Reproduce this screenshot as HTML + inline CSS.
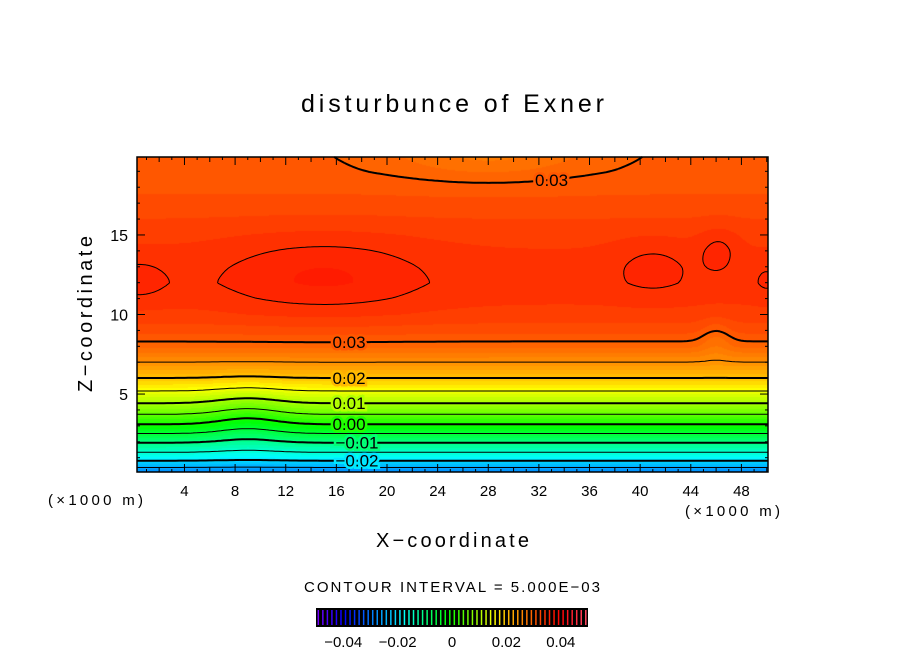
<!DOCTYPE html>
<html><head><meta charset="utf-8">
<style>
body{margin:0;background:#fff;width:904px;height:654px;position:relative;overflow:hidden;font-family:"Liberation Sans",sans-serif;}
#fill{position:absolute;left:137px;top:157px;}
#ov{position:absolute;left:0;top:0;}
</style></head><body>
<canvas id="fill" width="631" height="315"></canvas>
<svg id="ov" width="904" height="654">
<text x="301" y="112" font-size="25" textLength="303" lengthAdjust="spacing">disturbunce of Exner</text>
<text x="376" y="547" font-size="20" textLength="153" lengthAdjust="spacing">X−coordinate</text>
<text transform="translate(92,392) rotate(-90)" font-size="20" textLength="156" lengthAdjust="spacing">Z−coordinate</text>
<text x="48" y="505" font-size="15" textLength="95" lengthAdjust="spacing">(×1000 m)</text>
<text x="685" y="516" font-size="15" textLength="95" lengthAdjust="spacing">(×1000 m)</text>
<text x="304" y="592" font-size="15" textLength="296" lengthAdjust="spacing">CONTOUR INTERVAL = 5.000E−03</text>
<g id="lines"></g>
<g id="labels"></g>
<rect x="137" y="157" width="631" height="315" fill="none" stroke="#000" stroke-width="1.5"/>
<g id="axes"></g>
<g id="cbar"></g>
</svg>
<script>
// ---- data ----
const profileZ = [0,1,2,3,4,5,6,7,8,9,10,11,12,13,14,15,16,17,18,19,20];
const profileVal = [-0.0295,-0.0178,-0.0095,-0.0008,0.0072,0.0138,0.020,0.025,0.0292,0.0318,0.0333,0.0340,0.0343,0.0341,0.0338,0.0333,0.0325,0.0317,0.0309,0.0304,0.0303];
const bumpX   = [15,    0.3,   50,    41,    46.2,  28,     9,      46];
const bumpZ   = [12.5,  12.2,  12.2,  13,    14.1,  20.5,   3.5,    8.5];
const bumpAmp = [0.0022,0.0013,0.0010,0.0014,0.0016,-0.0035,-0.003, -0.002];
const bumpSX  = [8,     2.6,   1.2,   3.3,   1.6,   8,      3,      1.2];
const bumpSZ  = [2.5,   1.5,   1.2,   1.8,   1.5,   1.8,    2,      1.2];
const xTicks = [4,8,12,16,20,24,28,32,36,40,44,48];
const yTicks = [5,10,15];
const labelLevels = [0.03,0.02,0.01,0.00,-0.01,-0.02];
const cbarTicks = [-0.04,-0.02,0,0.02,0.04];
const cbarLabels = ["−0.04","−0.02","0","0.02","0.04"];
const hueV = [-0.05,-0.03,-0.02,-0.01,0,0.01,0.02,0.03,0.035,0.04,0.05];
const hueH = [270,212,188,150,115,80,45,22,10,0,-10];
// ---- axes ----
const X0=137,X1=768,Y0=472,Y1=157,xmin=0.25,xmax=50.1,zmin=0.1,zmax=19.9;
const sx=x=>X0+(x-xmin)/(xmax-xmin)*(X1-X0);
const sy=z=>Y0-(z-zmin)/(zmax-zmin)*(Y0-Y1);
function prof(z){if(z<=0)return profileVal[0];for(let i=1;i<profileZ.length;i++){if(z<=profileZ[i]){const t=(z-profileZ[i-1])/(profileZ[i]-profileZ[i-1]);return profileVal[i-1]*(1-t)+profileVal[i]*t;}}return profileVal[profileVal.length-1];}
function field(x,z){let v=prof(z);for(let i=0;i<bumpX.length;i++){const dx=(x-bumpX[i])/bumpSX[i],dz=(z-bumpZ[i])/bumpSZ[i];v+=bumpAmp[i]*Math.exp(-(dx*dx+dz*dz));}return v;}
function hsl2rgb(h,s,l){h=(h+360)%360;const a=s*Math.min(l,1-l);const f=n=>{const k=(n+h/30)%12;return Math.round(255*(l-a*Math.max(-1,Math.min(k-3,9-k,1))));};return [f(0),f(8),f(4)];}
function color(v){let h=hueH[0];if(v>=hueV[hueV.length-1])h=hueH[hueH.length-1];else for(let i=1;i<hueV.length;i++){if(v<=hueV[i]){const t=(v-hueV[i-1])/(hueV[i]-hueV[i-1]);h=hueH[i-1]*(1-t)+hueH[i]*t;break;}}
 const l=v>0.04?0.5+(v-0.04)*15:0.5;return hsl2rgb(h,1,l);}
// fill
const cv=document.getElementById('fill'),ctx=cv.getContext('2d');
const W=631,H=315,img=ctx.createImageData(W,H);
for(let j=0;j<H;j++)for(let i=0;i<W;i++){const x=xmin+(i+0.5)/W*(xmax-xmin),z=zmax-(j+0.5)/H*(zmax-zmin);let v=field(x,z);v=Math.floor(v/0.00125)*0.00125+0.000625;const c=color(v);const p=(j*W+i)*4;img.data[p]=c[0];img.data[p+1]=c[1];img.data[p+2]=c[2];img.data[p+3]=255;}
ctx.putImageData(img,0,0);
// contours (marching squares)
const NS="http://www.w3.org/2000/svg";
const nx=211,nz=106,gx=[],gz=[],G=[];
for(let i=0;i<nx;i++)gx.push(xmin+i/(nx-1)*(xmax-xmin));
for(let j=0;j<nz;j++)gz.push(zmin+j/(nz-1)*(zmax-zmin));
for(let j=0;j<nz;j++){G.push([]);for(let i=0;i<nx;i++)G[j].push(field(gx[i],gz[j]));}
const linesG=document.getElementById('lines');
for(let k=-6;k<=8;k++){const L=k*0.005;let d="";
 for(let j=0;j<nz-1;j++)for(let i=0;i<nx-1;i++){
  const c=[[gx[i],gz[j],G[j][i]],[gx[i+1],gz[j],G[j][i+1]],[gx[i+1],gz[j+1],G[j+1][i+1]],[gx[i],gz[j+1],G[j+1][i]]];
  const pts=[];for(let e=0;e<4;e++){const a=c[e],b=c[(e+1)%4];if((a[2]-L)*(b[2]-L)<0){const t=(L-a[2])/(b[2]-a[2]);pts.push([sx(a[0]+t*(b[0]-a[0])),sy(a[1]+t*(b[1]-a[1]))]);}}
  for(let p=0;p+1<pts.length;p+=2)d+="M"+pts[p][0].toFixed(1)+" "+pts[p][1].toFixed(1)+"L"+pts[p+1][0].toFixed(1)+" "+pts[p+1][1].toFixed(1);}
 if(!d)continue;
 const path=document.createElementNS(NS,'path');
 
 
 path.setAttribute('d',d);path.setAttribute('fill','none');path.setAttribute('stroke','#000');
 path.setAttribute('stroke-width',k%2===0?2:1);
 if(L<0)path.setAttribute('stroke-dasharray','6 4');
 linesG.appendChild(path);}
// labels
const labG=document.getElementById('labels');
function addLabel(txt,x,y){const t=document.createElementNS(NS,'text');
 
 
 t.setAttribute('x',x);t.setAttribute('y',y+6);t.setAttribute('font-size','17');t.setAttribute('text-anchor','middle');
 t.setAttribute('stroke-width','5');t.setAttribute('paint-order','stroke');
 const v=field((x-X0)/(X1-X0)*(xmax-xmin)+xmin,zmax-(y-Y1)/(Y0-Y1)*(zmax-zmin));const c=color(Math.floor(v/0.00125)*0.00125+0.000625);
 t.setAttribute('stroke','rgb('+c.join(',')+')');t.textContent=txt;labG.appendChild(t);}
labelLevels.forEach(L=>{const x=17;let zf=null;for(let z=0.1;z<10;z+=0.02){if(field(x,z)>=L){zf=z;break;}}
 if(zf!==null)addLabel((L<0?"−":"")+Math.abs(L).toFixed(2),sx(x)+(L<0?8:0),sy(zf));});
{const x=33;let zf=null;for(let z=19.9;z>14;z-=0.02){if(field(x,z)>=0.03){zf=z;break;}}if(zf!==null)addLabel("0.03",sx(x),sy(zf));}
// axes ticks
const ax=document.getElementById('axes');
function line(x1,y1,x2,y2,w,name){const l=document.createElementNS(NS,'line');l.setAttribute('x1',x1);l.setAttribute('y1',y1);l.setAttribute('x2',x2);l.setAttribute('y2',y2);l.setAttribute('stroke','#000');l.setAttribute('stroke-width',w);ax.appendChild(l);}
for(let x=1;x<=50;x++){const len=x%4===0?8:(x%2===0?5:3);line(sx(x),Y0,sx(x),Y0-len,1,'x-tick');line(sx(x),Y1,sx(x),Y1+len,1,'x-tick');}
for(let z=1;z<=19;z++){const len=z%5===0?8:3;line(X0,sy(z),X0+len,sy(z),1,'y-tick');line(X1,sy(z),X1-len,sy(z),1,'y-tick');}
xTicks.forEach(x=>{const t=document.createElementNS(NS,'text');t.setAttribute('x',sx(x));t.setAttribute('y',496);t.setAttribute('font-size','15');t.setAttribute('text-anchor','middle');t.textContent=x;ax.appendChild(t);});
yTicks.forEach(z=>{const t=document.createElementNS(NS,'text');t.setAttribute('x',128);t.setAttribute('y',sy(z)+6);t.setAttribute('font-size','16');t.setAttribute('text-anchor','end');t.textContent=z;ax.appendChild(t);});
// colorbar
const cb=document.getElementById('cbar');const CX0=316,CX1=588,CY=608,CH=19;
const bg=document.createElementNS(NS,'rect');bg.setAttribute('x',CX0);bg.setAttribute('y',CY);bg.setAttribute('width',CX1-CX0);bg.setAttribute('height',CH);bg.setAttribute('fill','#000');cb.appendChild(bg);
const csx=v=>CX0+(v+0.05)/0.1*(CX1-CX0);
for(let i=0;i<60;i++){const v=-0.05+(i+0.5)*0.1/60;const c=color(v);const r=document.createElementNS(NS,'rect');r.setAttribute('x',csx(v)-0.7);r.setAttribute('y',CY+2);r.setAttribute('width',1.5);r.setAttribute('height',CH-4);r.setAttribute('fill','rgb('+c.join(',')+')');cb.appendChild(r);}
cbarTicks.forEach((v,i)=>{const t=document.createElementNS(NS,'text');t.setAttribute('x',csx(v));t.setAttribute('y',647);t.setAttribute('font-size','15');t.setAttribute('text-anchor','middle');t.textContent=cbarLabels[i];cb.appendChild(t);});
</script>
</body></html>
